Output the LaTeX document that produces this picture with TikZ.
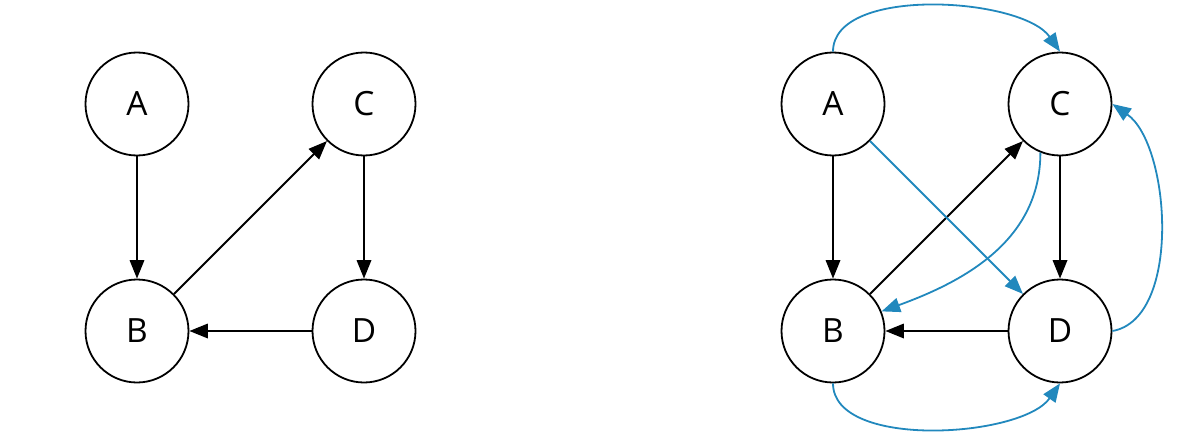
\documentclass[tikz,border=0pt]{standalone}
\usepackage{fontspec}
\setmainfont{Open Sans}
\usetikzlibrary{arrows.meta,
                positioning}
\definecolor{edgeblue}{HTML}{2188BD}
\tikzset{vertex/.style=
   {circle,
    draw,
    line width=0.036cm,
    minimum size=2.06cm,
    inner sep=0pt,
    font=\fontsize{19}{22}\selectfont}}
\tikzset{arrow/.style = {draw, line width=0.036cm, -{Triangle[length=3.7mm,width=2.9mm]}}}
\tikzset{extra/.style = {arrow, draw=edgeblue}}

\begin{document}
\begin{tikzpicture}[node distance=4.54cm]
    \useasboundingbox (-2.74,2.08) rectangle (21.26,-6.64);

    % Place nodes, first graph
    \node [vertex] (A) {A};
    \node [vertex, right of=A] (C) {C};
    \node [vertex, below of=A] (B) {B};
    \node [vertex, below of=C] (D) {D};

    % Place nodes, second graph
    \node [vertex, right of=C, node distance=9.38cm] (A2) {A};
    \node [vertex, right of=A2] (C2) {C};
    \node [vertex, below of=A2] (B2) {B};
    \node [vertex, below of=C2] (D2) {D};

    % Draw edges, first graph
    \path [arrow] (A) -- (B);
    \path [arrow] (B) -- (C);
    \path [arrow] (C) -- (D);
    \path [arrow] (D) -- (B);

    % Draw edges, second graph
    \path [arrow] (A2) -- (B2);
    \path [arrow] (B2) -- (C2);
    \path [arrow] (C2) -- (D2);
    \path [arrow] (D2) -- (B2);

    % Added edges
    \path [extra] (A2) -- (D2);
    \path [extra] (A2.north) to [out=90, in=125, looseness=0.75] (C2.north);
    \path [extra] (B2.south) to [out=-90, in=-125, looseness=0.75] (D2.south);
    \path [extra] (D2.east) to [out=10, in=-35, looseness=0.8] (C2.east);
    \path [extra] (C2.-112) to [out=-90, in=20, looseness=1] (B2.22);

\end{tikzpicture}
\end{document}
